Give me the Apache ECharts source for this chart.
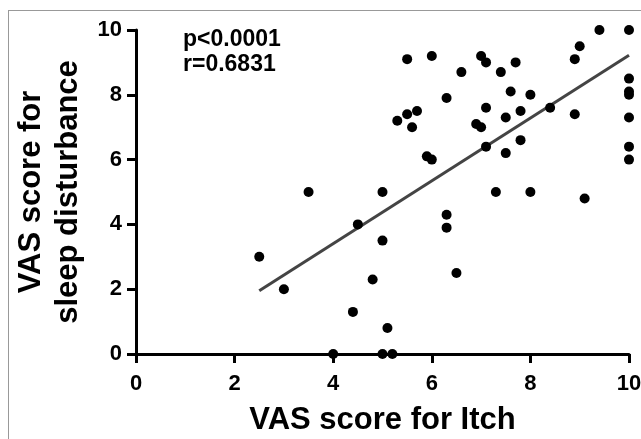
<!DOCTYPE html>
<html>
<head>
<meta charset="utf-8">
<script src="https://cdn.jsdelivr.net/npm/echarts@6/dist/echarts.min.js"></script>
<style>
html, body { margin: 0; padding: 0; background: #fff; }
#wrap { position: relative; width: 641px; height: 439px; overflow: hidden; }
#frame { position: absolute; left: 8px; top: 10px; width: 700px; height: 500px; border: 1px solid #999; }
#chart { position: absolute; left: 0; top: 0; width: 641px; height: 439px; }
</style>
</head>
<body>
<div id="wrap">
    <div id="frame"></div>
    <div id="chart"></div>
</div>
<script>
// VAS itch vs VAS sleep disturbance, one point per patient
var itch = [2.5, 3.0, 3.5, 4.0, 4.4, 4.5, 4.8, 5.0, 5.0, 5.0, 5.1, 5.2, 5.3, 5.5, 5.5, 5.6, 5.7, 5.9,
    6.0, 6.0, 6.3, 6.3, 6.3, 6.5, 6.6, 6.9, 7.0, 7.0, 7.1, 7.1, 7.1, 7.3, 7.4, 7.5, 7.5, 7.6,
    7.7, 7.8, 7.8, 8.0, 8.0, 8.4, 8.9, 8.9, 9.0, 9.1, 9.4, 10, 10, 10, 10, 10, 10, 10];
var sleep = [3.0, 2.0, 5.0, 0, 1.3, 4.0, 2.3, 5.0, 3.5, 0, 0.8, 0, 7.2, 9.1, 7.4, 7.0, 7.5, 6.1,
    9.2, 6.0, 7.9, 4.3, 3.9, 2.5, 8.7, 7.1, 9.2, 7.0, 9.0, 7.6, 6.4, 5.0, 8.7, 7.3, 6.2, 8.1,
    9.0, 7.5, 6.6, 8.0, 5.0, 7.6, 9.1, 7.4, 9.5, 4.8, 10, 10, 8.5, 8.1, 8.0, 7.3, 6.4, 6.0];
// fitted line end points
var fitX = [2.5, 10];
var fitY = [1.95, 9.22];
var xTicks = [0, 2, 4, 6, 8, 10];
var yTicks = [0, 2, 4, 6, 8, 10];
var stats = ['p<0.0001', 'r=0.6831'];

var points = itch.map(function (v, i) { return [v, sleep[i]]; });
var fit = fitX.map(function (v, i) { return [v, fitY[i]]; });

var font = 'Liberation Sans';
var myChart = echarts.init(document.getElementById('chart'));
var option = {
    animation: false,
    title: {
        text: stats.join('\n'),
        left: 178,
        top: 22,
        textStyle: {
            fontFamily: font,
            fontWeight: 'bold',
            fontSize: 23,
            lineHeight: 25,
            color: '#000'
        }
    },
    grid: {
        left: 136,
        right: 12,
        top: 30,
        bottom: 85,
        outerBoundsMode: 'none'
    },
    xAxis: {
        type: 'value',
        min: xTicks[0],
        max: xTicks[xTicks.length - 1],
        interval: 2,
        name: 'VAS score for Itch',
        nameLocation: 'middle',
        nameGap: 51,
        nameTextStyle: {
            fontFamily: font,
            fontWeight: 'bold',
            fontSize: 31,
            color: '#000'
        },
        axisLine: { show: true, lineStyle: { color: '#000', width: 3 } },
        axisTick: { show: true, length: 9, lineStyle: { color: '#000', width: 3 } },
        axisLabel: {
            margin: 19,
            fontFamily: font,
            fontWeight: 'bold',
            fontSize: 22,
            color: '#000'
        },
        splitLine: { show: true, lineStyle: { color: 'rgba(0,0,0,0)', width: 0 } }
    },
    yAxis: {
        type: 'value',
        min: yTicks[0],
        max: yTicks[yTicks.length - 1],
        interval: 2,
        name: 'VAS score for\nsleep disturbance',
        nameLocation: 'middle',
        nameGap: 45,
        nameTextStyle: {
            fontFamily: font,
            fontWeight: 'bold',
            fontSize: 31,
            lineHeight: 37,
            color: '#000'
        },
        axisLine: { show: true, lineStyle: { color: '#000', width: 3 } },
        axisTick: { show: true, length: 9, lineStyle: { color: '#000', width: 3 } },
        axisLabel: {
            margin: 14,
            fontFamily: font,
            fontWeight: 'bold',
            fontSize: 22,
            color: '#000'
        },
        splitLine: { show: true, lineStyle: { color: 'rgba(0,0,0,0)', width: 0 } }
    },
    series: [{
        type: 'line',
        data: fit,
        symbol: 'none',
        lineStyle: { color: '#444', width: 3 },
        z: 1
    }, {
        type: 'scatter',
        data: points,
        symbol: 'circle',
        symbolSize: 10,
        clip: false,
        itemStyle: { color: '#000', opacity: 1 },
        z: 3
    }]
};
myChart.setOption(option);
</script>
</body>
</html>
